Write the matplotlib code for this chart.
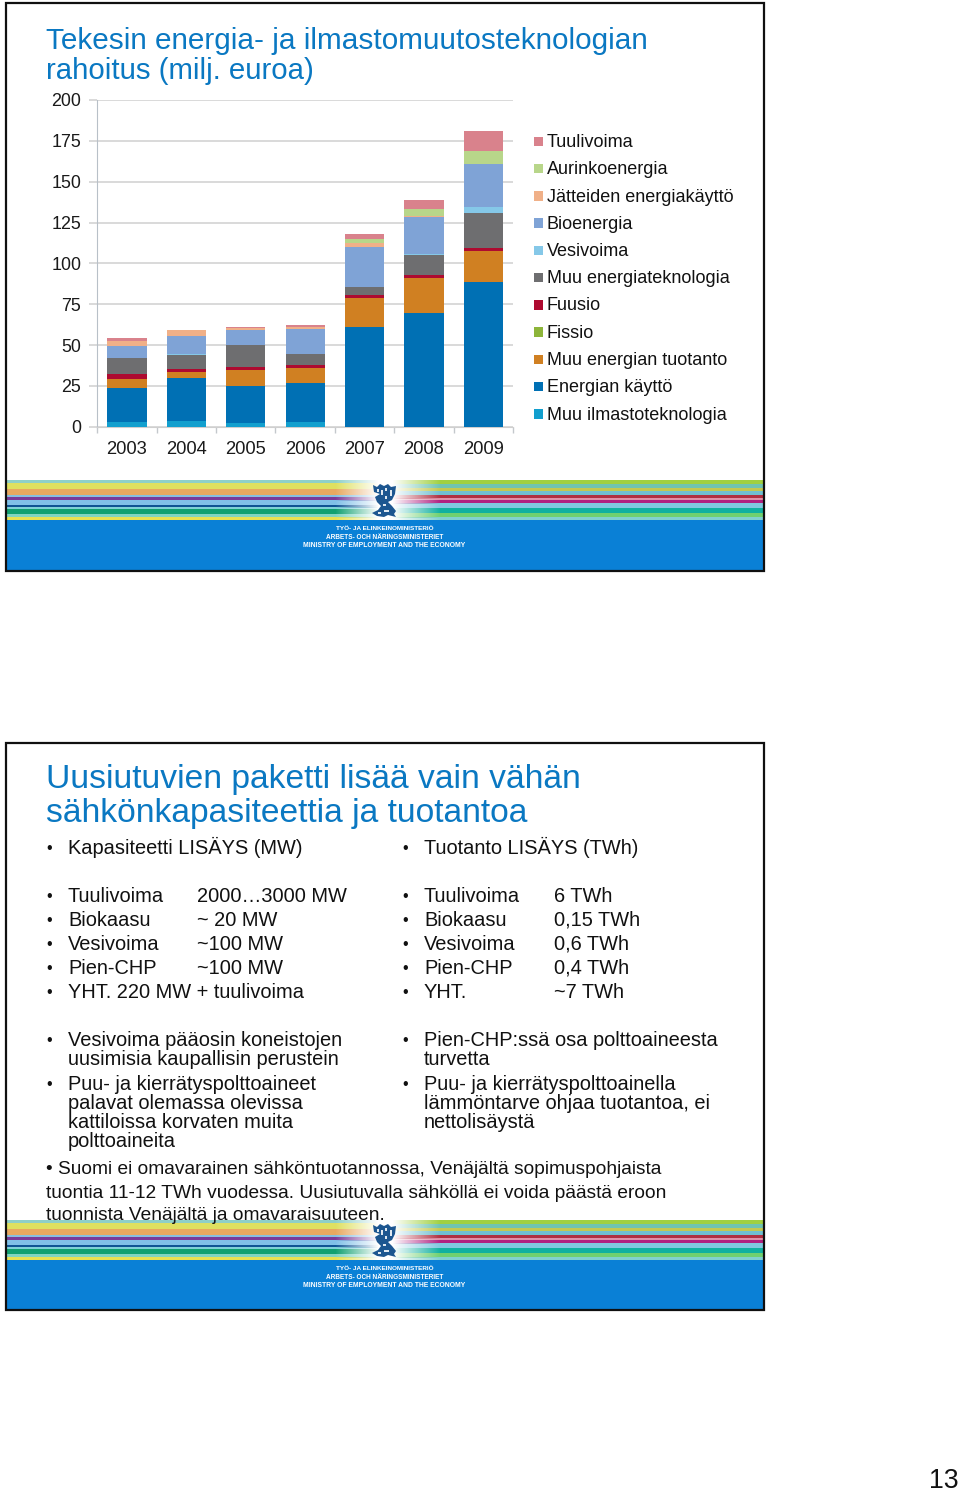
import numpy as np
import matplotlib.pyplot as plt
from matplotlib.colors import to_rgb
from matplotlib.patches import Polygon, Rectangle

plt.rcParams['font.family'] = ['Liberation Sans', 'DejaVu Sans']

years = ['2003', '2004', '2005', '2006', '2007', '2008', '2009']
y_ticks = [0, 25, 50, 75, 100, 125, 150, 175, 200]

# pinon järjestys alhaalta ylös
muu_ilmasto = [3, 3.5, 2, 2.6, 0, 0, 0]
energian_kaytto = [20.5, 26.5, 22.9, 24.1, 60.8, 69.4, 88.4]
muu_tuotanto = [5.5, 3.5, 9.8, 9, 18.2, 21.8, 19.2]
fissio = [0, 0, 0, 0, 0, 0, 0]
fuusio = [3, 2, 1.6, 2.1, 1.6, 1.7, 1.8]
muu_energia = [9.8, 8.2, 13.7, 6.5, 4.9, 12.2, 21.6]
vesivoima = [0.2, 0.5, 0, 0.2, 0.2, 0.8, 3.5]
bioenergia = [7.4, 11.2, 9.2, 15.1, 24.3, 22.5, 26.1]
jatteet = [3.2, 3.7, 1.2, 1.2, 2.4, 0.6, 0.2]
aurinko = [0, 0, 0.2, 0, 2.6, 4, 8.2]
tuuli = [1.7, 0.2, 0.4, 1.4, 2.8, 5.6, 12.2]

series_names = ['Muu ilmastoteknologia', 'Energian käyttö', 'Muu energian tuotanto', 'Fissio', 'Fuusio',
                'Muu energiateknologia', 'Vesivoima', 'Bioenergia', 'Jätteiden energiakäyttö',
                'Aurinkoenergia', 'Tuulivoima']
series_values = [muu_ilmasto, energian_kaytto, muu_tuotanto, fissio, fuusio, muu_energia,
                 vesivoima, bioenergia, jatteet, aurinko, tuuli]
series_colors = ['#129fce', '#0070b4', '#d08022', '#8db53a', '#ae0a30', '#6e6e70',
                 '#85c8e8', '#7fa3d6', '#f0b088', '#b8d68a', '#d9828c']

left_stripes = ['#8fd0c8', '#dfe060', '#e8a860', '#88bfe0', '#7a3a98', '#80c0e8', '#105494',
                '#80d0d8', '#10a070', '#80d4c0', '#e8e050']
left_heights = [2.3, 6, 6, 1.7, 4, 4.3, 2.7, 1.3, 4.4, 4, 3.6]
right_stripes = ['#a0d040', '#70c4b0', '#c4c850', '#70c0d0', '#b03040', '#e090a8', '#b02080',
                 '#80c8e0', '#10b0a0', '#70d070', '#80d0d0']
right_heights = [3.3, 4, 2.7, 4, 3.7, 1.3, 4, 4.3, 4.3, 5, 2.7]

W, H = 960, 1494
fig = plt.figure(figsize=(W / 100, H / 100), dpi=100)
bg = fig.add_axes([0, 0, 1, 1])
bg.set_xlim(0, W)
bg.set_ylim(H, 0)
bg.axis('off')


def txt(x, y, s, size=14.4, **kw):
    bg.text(x, y, s, fontsize=size, va='baseline', color=kw.pop('color', '#111111'), **kw)


def stripes(top, colors, heights, x0, x1, fade):
    # raidat häipyvät valkoiseen logon kohdalla
    xs = np.arange(x0, x1)
    alpha = np.interp(xs, fade[0], fade[1])
    y = top
    for color, h in zip(colors, heights):
        img = np.ones((1, len(xs), 4))
        img[0, :, :3] = to_rgb(color)
        img[0, :, 3] = alpha
        bg.imshow(img, extent=[x0, x1, y + h, y], aspect='auto', zorder=2)
        y += h


def banner(top):
    stripes(top, left_stripes, left_heights, 7, 384, ([335, 378], [1, 0]))
    stripes(top, right_stripes, right_heights, 384, 763, ([392, 440], [0, 1]))
    bg.add_patch(Rectangle((7, top + 39), 756, 50, color='#0a80d6', lw=0, zorder=2))
    # leijonan karkea muoto
    lion = [(373, 4), (377, 6), (380, 3), (384, 5), (388, 3), (391, 6), (396, 5), (395, 13),
            (392, 19), (388, 21), (392, 25), (396, 30), (394, 33), (396, 36), (388, 34), (384, 36),
            (377, 35), (372, 32), (378, 29), (381, 25), (377, 21), (375, 16), (380, 13), (374, 11)]
    bg.add_patch(Polygon([(x, top + y) for x, y in lion], color='#1c5690', lw=0, zorder=3))
    for hx, hy, w, h in [(377, 8, 2, 3), (381, 9, 2, 5), (385, 7, 2, 3), (390, 9, 2, 6),
                         (385, 15, 2, 3), (383, 23, 3, 2), (384, 29, 5, 2), (378, 31, 3, 1.5)]:
        bg.add_patch(Rectangle((hx, top + hy), w, h, color='#dfe8f0', lw=0, zorder=4))
    for dy, s, size in [(49, 'TYÖ- JA ELINKEINOMINISTERIÖ', 4.6),
                        (58, 'ARBETS- OCH NÄRINGSMINISTERIET', 4.7),
                        (66, 'MINISTRY OF EMPLOYMENT AND THE ECONOMY', 4.9)]:
        bg.text(384.5, top + dy, s, color='white', fontsize=size, fontweight='bold', ha='center',
                va='baseline', zorder=4)


def frame(top, bottom):
    bg.add_patch(Rectangle((6, top), 758, bottom - top, fill=False, ec='#101010', lw=1.6, zorder=5))


# Kalvo 1
frame(3, 571)
banner(481)
txt(46, 49, 'Tekesin energia- ja ilmastomuutosteknologian', 21.45, color='#0a78c2')
txt(46, 79, 'rahoitus (milj. euroa)', 21.2, color='#0a78c2')

ax = fig.add_axes([97.3 / W, 1 - 426.7 / H, (513 - 97.3) / W, (426.7 - 100) / H])
x = np.arange(len(years))
bottom = np.zeros(len(years))
for values, color in zip(series_values, series_colors):
    ax.bar(x, values, bottom=bottom, width=0.66, color=color, zorder=3)
    bottom += np.array(values)
ax.set_xlim(-0.5, 6.5)
ax.set_ylim(0, 200)
ax.set_yticks(y_ticks)
ax.set_xticks(np.arange(-0.5, 7))
ax.set_xticklabels([])
ax.grid(axis='y', color='#cfcfcf', lw=1.1, zorder=1)
ax.tick_params(axis='y', length=5.5, color='#cfcfcf', width=1.1, labelsize=12.9, pad=6, labelcolor='#1a1a1a')
ax.tick_params(axis='x', length=4, color='#c4c8cc', width=1)
for side in ['top', 'right']:
    ax.spines[side].set_visible(False)
ax.spines['left'].set_color('#b8c0c8')
ax.spines['bottom'].set_color('#cfcfcf')
ax.patch.set_alpha(0)
for i, year in enumerate(years):
    ax.annotate(year, (i, 0), xytext=(0, -27), xycoords=('data', 'data'), textcoords='offset pixels',
                ha='center', va='baseline', fontsize=13.2, color='#1a1a1a', annotation_clip=False)

for i, (name, color) in enumerate(zip(series_names[::-1], series_colors[::-1])):
    yc = 141 + i * 27.25
    bg.add_patch(Rectangle((533.5, yc - 4.5), 9.5, 9.5, color=color, lw=0))
    txt(547, yc + 6, name, 13)

# Kalvo 2
frame(743, 1310)
txt(46, 788, 'Uusiutuvien paketti lisää vain vähän', 24.2, color='#0a78c2')
txt(46, 822, 'sähkönkapasiteettia ja tuotantoa', 24.2, color='#0a78c2')

left_rows = [(854, 'Kapasiteetti LISÄYS (MW)', ''),
             (902, 'Tuulivoima', '2000…3000 MW'),
             (926, 'Biokaasu', '~ 20 MW'),
             (950, 'Vesivoima', '~100 MW'),
             (974, 'Pien-CHP', '~100 MW'),
             (998, 'YHT. 220 MW + tuulivoima', ''),
             (1046, 'Vesivoima pääosin koneistojen', ''),
             (1090, 'Puu- ja kierrätyspolttoaineet', '')]
right_rows = [(854, 'Tuotanto LISÄYS (TWh)', ''),
              (902, 'Tuulivoima', '6 TWh'),
              (926, 'Biokaasu', '0,15 TWh'),
              (950, 'Vesivoima', '0,6 TWh'),
              (974, 'Pien-CHP', '0,4 TWh'),
              (998, 'YHT.', '~7 TWh'),
              (1046, 'Pien-CHP:ssä osa polttoaineesta', ''),
              (1090, 'Puu- ja kierrätyspolttoainella', '')]
for rows, xb, xt, xv in [(left_rows, 46, 68, 197), (right_rows, 402, 424, 554)]:
    for y, a, b in rows:
        txt(xb, y - 1, '•', 11.5)
        txt(xt, y, a, 14.4)
        if b:
            txt(xv, y, b, 14.4)
for y, s in [(1065, 'uusimisia kaupallisin perustein'), (1109, 'palavat olemassa olevissa'),
             (1128, 'kattiloissa korvaten muita'), (1147, 'polttoaineita')]:
    txt(68, y, s, 14.4)
for y, s in [(1065, 'turvetta'), (1109, 'lämmöntarve ohjaa tuotantoa, ei'), (1128, 'nettolisäystä')]:
    txt(424, y, s, 14.4)
txt(46, 1174.5, '• Suomi ei omavarainen sähköntuotannossa, Venäjältä sopimuspohjaista', 13.75)
txt(46, 1197.5, 'tuontia 11-12 TWh vuodessa. Uusiutuvalla sähköllä ei voida päästä eroon', 13.75)
txt(46, 1220.5, 'tuonnista Venäjältä ja omavaraisuuteen.', 13.75)
banner(1221)

txt(929, 1488, '13', 19.2)

bg.set_xlim(0, W)
bg.set_ylim(H, 0)
fig.savefig('out.png', dpi=100)
